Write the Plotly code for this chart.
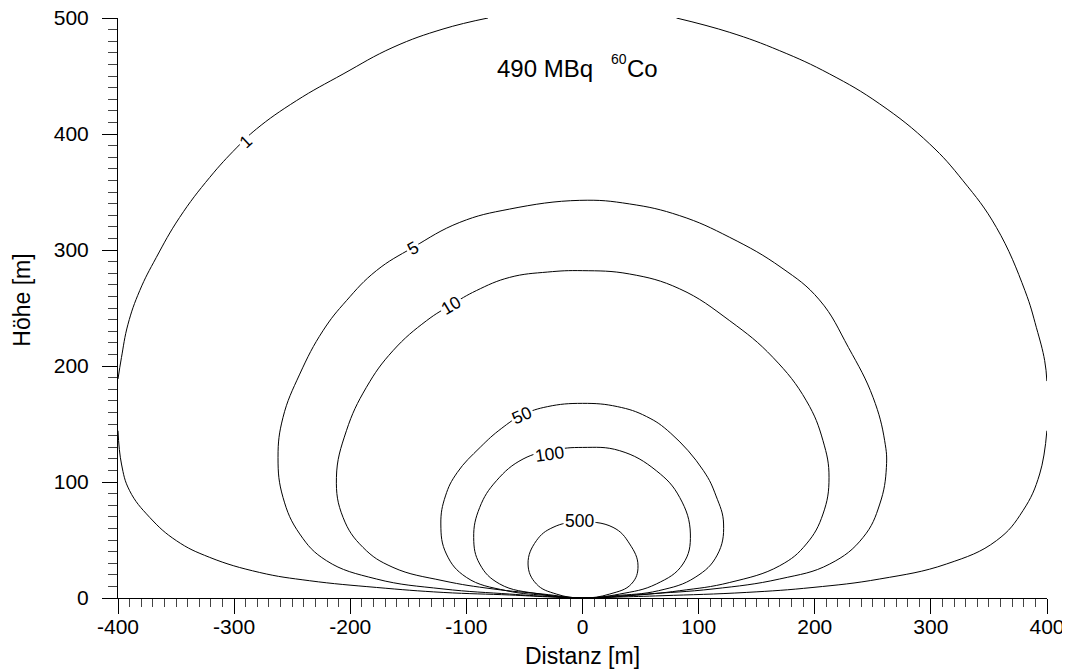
import plotly.graph_objects as go

# ---- data (x: Distanz [m], y: Höhe [m]) ----
level_names = ["1", "5", "10", "50", "100", "500"]

c1_x = [0, -30, -62.7, -120, -177.5, -235, -278, -321, -349.7, -372.7, -390, -397, -400, None,
        -400, -397, -391.4, -381.3, -367, -347, -321, -298, -280.8, -246.4, -206.2, -163.2, -120.1, -81.4, None,
        80.9, 126.8, 169.8, 212.9, 256, 299, 327.7, 356.4, 381, 390.9, 398, 399.9, None,
        399.9, 393.7, 379.3, 356.4, 313.4, 256, 198.5, 141, 69.3, 30, 0]
c1_y = [0, 1.0, 2.6, 4.8, 9.1, 14.9, 22, 35, 49.4, 69.5, 92.5, 115.5, 144.2, None,
        188.8, 207.4, 236, 265, 293.6, 328, 362.6, 388, 404.3, 428.7, 451.7, 474.7, 490.5, 500, None,
        500, 487.6, 471.8, 451.7, 425.9, 391.4, 359.7, 319.5, 265, 233, 204.6, 187, None,
        144.2, 106.9, 75.3, 49.4, 29.3, 16.4, 9.1, 4.8, 2.0, 0.8, 0]

c5_x = [0, -30, -62.7, -120.1, -177.5, -220.5, -243.5, -257.9, -262.2, -257.9, -243.5, -223.5, -203.3,
        -177.5, -146, -105.7, -62.7, -2.4, 40.6, 83.7, 126.8, 171, 204, 229, 250.2, 260.2, 261.7,
        256, 241.6, 212.9, 169.8, 112.4, 55, 25, 0]
c5_y = [0, 1.3, 3.4, 7.8, 16.4, 32.2, 55.2, 86.7, 121.2, 155.7, 193, 230.4, 256.3,
        282.2, 302.2, 323.8, 335.3, 342.8, 339.7, 329.6, 310.9, 285, 257, 216, 173, 135.6, 112.6,
        81, 52.2, 29.3, 16.4, 7.8, 3.4, 1.2, 0]

c10_x = [0, -34, -77, -120.1, -163.2, -189, -206.2, -211.9, -203.3, -186.1, -163.2, -134.4, -112.9,
         -91.4, -62.7, -30, 0, 40.6, 83.7, 126.8, 164, 192.8, 207.1, 212.3, 207.1, 192.8, 169.8,
         126.8, 83.7, 40.6, 0]
c10_y = [0, 3.4, 7.8, 14.9, 26.4, 43.6, 69.5, 104, 144.2, 181.6, 213.2, 239, 252.8,
         265, 276.4, 281, 282.2, 279.3, 266.5, 239, 207.4, 170, 135.6, 104, 72.4, 46.6, 27.8,
         13.4, 6.3, 2.0, 0]

c50_x = [0, -28, -65.5, -100, -117.2, -122, -118, -108, -88, -70, -51.8, -30, 0, 30, 55, 76, 104,
         115, 121.5, 116, 97, 65.5, 28, 0]
c50_y = [0, 2.0, 6.3, 17.8, 37.9, 63.8, 88, 108, 130, 146, 157.8, 165, 167.8, 165, 156.5, 142, 110,
         88, 63.8, 37, 17.8, 6.3, 2.0, 0]

c100_x = [0, -36.9, -71.3, -88.5, -93.7, -88.5, -74.1, -51.2, -25, 0, 32, 63.6, 83.7, 92.9, 86.5,
          63.6, 32, 0]
c100_y = [0, 3.4, 12.1, 29.3, 52.2, 78.1, 101.1, 119.8, 127.5, 129.8, 127, 109.7, 86.7, 55.2, 29.3,
          12.1, 3.4, 0]

c500_x = [0, -22.5, -39.7, -46.9, -39.7, -25.4, -3, 26.3, 40.6, 47.8, 42.1, 23.4, 0]
c500_y = [0, 3.4, 12.1, 29.3, 49.4, 60.9, 65.5, 60.9, 46.6, 27.8, 12.1, 3.4, 0]

label_x = [-289.4, -146, -112.9, -51.8, -28.2, -3]
label_y = [393.6, 301.7, 252.8, 157.8, 124.1, 66]
label_angle = [-43, -30, -31, -24, -8, 0]

x_ticks = [-400, -300, -200, -100, 0, 100, 200, 300, 400]
y_ticks = [0, 100, 200, 300, 400, 500]

FONT = "Arial, Liberation Sans, sans-serif"

fig = go.Figure()
for xs, ys in [(c1_x, c1_y), (c5_x, c5_y), (c10_x, c10_y),
               (c50_x, c50_y), (c100_x, c100_y), (c500_x, c500_y)]:
    fig.add_trace(go.Scatter(
        x=xs, y=ys, mode="lines", connectgaps=False,
        line=dict(color="black", width=1, shape="spline", smoothing=1.2),
        hoverinfo="skip", showlegend=False))

annotations = []
for txt, lx, ly, ang in zip(level_names, label_x, label_y, label_angle):
    annotations.append(dict(x=lx, y=ly, xref="x", yref="y", text=txt, showarrow=False,
                            textangle=ang, bgcolor="white", borderpad=1,
                            font=dict(family=FONT, size=17.5, color="black")))

# in-plot title: 490 MBq 60Co
annotations.append(dict(x=10.5, y=456.7, xref="x", yref="y", text="490 MBq", showarrow=False,
                        xanchor="right", yanchor="middle",
                        font=dict(family=FONT, size=24, color="black")))
annotations.append(dict(x=22.5, y=464.3, xref="x", yref="y", text="60", showarrow=False,
                        xanchor="left", yanchor="middle",
                        font=dict(family=FONT, size=14, color="black")))
annotations.append(dict(x=36.3, y=456.7, xref="x", yref="y", text="Co", showarrow=False,
                        xanchor="left", yanchor="middle",
                        font=dict(family=FONT, size=24, color="black")))

# axis titles
annotations.append(dict(x=0.5, y=0, xref="paper", yref="paper", text="Distanz [m]",
                        showarrow=False, xanchor="center", yanchor="middle", yshift=-58,
                        font=dict(family=FONT, size=23, color="black")))
annotations.append(dict(x=0, y=0.5126, xref="paper", yref="paper", text="Höhe [m]",
                        showarrow=False, xanchor="center", yanchor="middle", xshift=-96,
                        textangle=-90, font=dict(family=FONT, size=23, color="black")))

# page body has an 8px margin, so the figure is sized/offset to land the
# plot area at the reference pixel position
fig.update_layout(
    width=1062, height=663,
    margin=dict(l=110, r=23, t=10, b=73, autoexpand=False),
    plot_bgcolor="white", paper_bgcolor="white",
    font=dict(family=FONT, size=21, color="black"),
    showlegend=False,
    annotations=annotations,
    xaxis=dict(range=[-400, 400], tickmode="array", tickvals=x_ticks,
               ticktext=[str(v) for v in x_ticks], automargin=False,
               ticklabeloverflow="allow",
               ticks="outside", ticklen=15, tickwidth=1, tickcolor="black",
               ticklabelstandoff=-5,
               showline=True, linecolor="black", linewidth=1,
               showgrid=False, zeroline=False,
               tickfont=dict(family=FONT, size=21, color="black"),
               minor=dict(tick0=0, dtick=10, ticks="outside", ticklen=8,
                          tickwidth=1, tickcolor="#444", showgrid=False)),
    yaxis=dict(range=[0, 500], tickmode="array", tickvals=y_ticks,
               ticktext=[str(v) for v in y_ticks], automargin=False,
               ticklabeloverflow="allow",
               ticks="outside", ticklen=15, tickwidth=1, tickcolor="black",
               ticklabelstandoff=9,
               showline=True, linecolor="black", linewidth=1,
               showgrid=False, zeroline=False,
               tickfont=dict(family=FONT, size=21, color="black"),
               minor=dict(tick0=0, dtick=10, ticks="outside", ticklen=9,
                          tickwidth=1, tickcolor="#444", showgrid=False)),
)

fig.write_html("out.html")
